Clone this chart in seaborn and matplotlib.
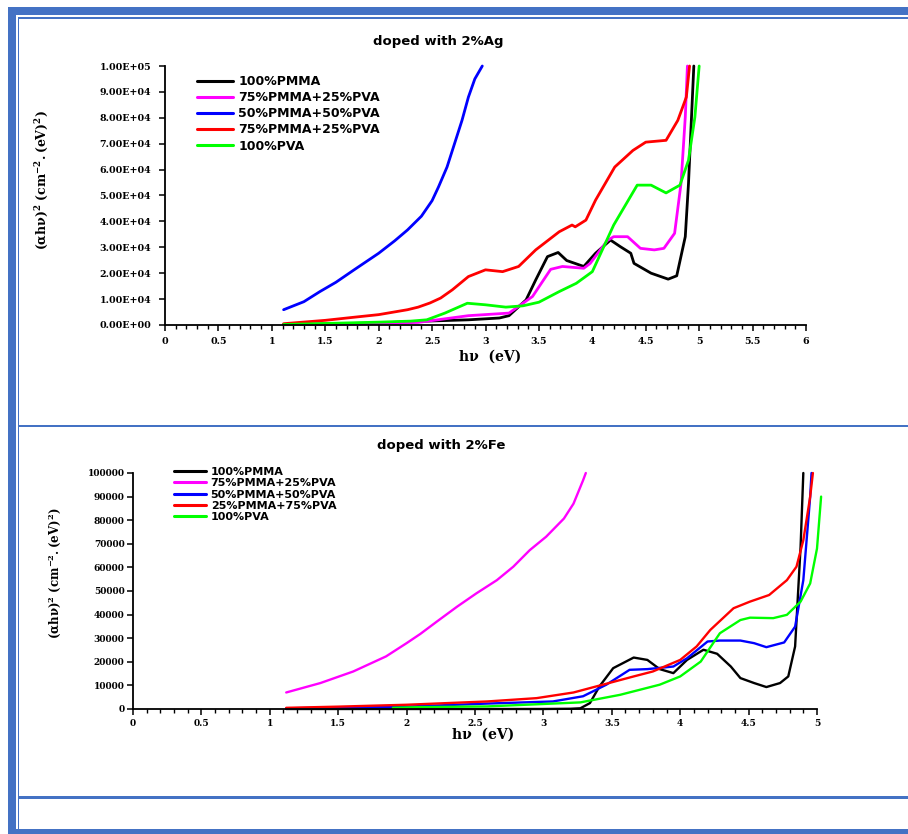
import matplotlib
matplotlib.use("Agg")
import matplotlib.pyplot as plt
from matplotlib.patches import Rectangle
from matplotlib.ticker import MultipleLocator, FuncFormatter
import seaborn as sns
import pandas as pd

sns.set_style("ticks")
plt.rcParams['font.family'] = ['DejaVu Sans']
plt.rcParams['mathtext.fontset'] = 'dejavuserif'
plt.rcParams['text.color'] = 'black'
plt.rcParams['axes.labelcolor'] = 'black'
plt.rcParams['xtick.color'] = 'black'
plt.rcParams['ytick.color'] = 'black'

# ---- doped with 2%Ag ----
ag_pmma_x = [1.11, 1.5, 2.0, 2.37, 2.84, 3.13, 3.22, 3.38, 3.47, 3.58, 3.68, 3.76, 3.92, 4.03,
             4.17, 4.26, 4.36, 4.39, 4.55, 4.71, 4.79, 4.87, 4.9, 4.95]
ag_pmma_y = [200, 400, 800, 1400, 2000, 2700, 3600, 9700, 17400, 26400, 28000, 24900, 22600, 27700,
             32800, 30300, 27700, 23800, 20000, 17700, 19000, 34100, 54600, 100000]

ag_75_x = [1.11, 1.5, 2.0, 2.37, 2.84, 3.22, 3.44, 3.61, 3.72, 3.92, 3.98, 4.14, 4.2, 4.33,
           4.45, 4.58, 4.67, 4.77, 4.83, 4.87, 4.89]
ag_75_y = [100, 300, 600, 1000, 3600, 4600, 11000, 21500, 22600, 21900, 23800, 32600, 34100, 34100,
           29600, 29000, 29600, 35400, 54600, 80300, 100000]

ag_50_x = [1.11, 1.3, 1.45, 1.6, 1.77, 2.0, 2.15, 2.27, 2.4, 2.5, 2.56, 2.64, 2.71, 2.78, 2.84,
           2.9, 2.97]
ag_50_y = [5900, 9000, 12900, 16500, 21300, 27700, 32500, 36700, 42000, 48000, 53300, 61000,
           70000, 79000, 88000, 95000, 100000]

ag_red_x = [1.11, 1.5, 1.77, 2.0, 2.27, 2.37, 2.48, 2.58, 2.69, 2.84, 3.0, 3.16, 3.31, 3.47,
            3.69, 3.81, 3.84, 3.94, 4.03, 4.21, 4.38, 4.5, 4.69, 4.8, 4.88, 4.91]
ag_red_y = [500, 1800, 3000, 4000, 5900, 6900, 8500, 10400, 13600, 18700, 21300, 20600, 22600, 29000,
            36000, 38600, 37900, 40500, 48200, 61000, 67400, 70600, 71300, 79000, 88000, 100000]

ag_pva_x = [1.11, 1.5, 2.0, 2.3, 2.45, 2.62, 2.83, 3.0, 3.19, 3.35, 3.5, 3.69, 3.85, 4.0,
            4.2, 4.42, 4.55, 4.69, 4.82, 4.9, 4.96, 5.0]
ag_pva_y = [200, 600, 1100, 1500, 2000, 4600, 8400, 7800, 6900, 7400, 8800, 12900, 16100, 20600,
            38600, 54000, 54000, 51000, 54000, 63600, 80300, 100000]

ag_labels = ["100%PMMA", "75%PMMA+25%PVA", "50%PMMA+50%PVA", "75%PMMA+25%PVA", "100%PVA"]

# ---- doped with 2%Fe ----
fe_pmma_x = [1.12, 2.0, 3.0, 3.2, 3.27, 3.34, 3.41, 3.51, 3.66, 3.76, 3.85, 3.95, 4.05, 4.17,
             4.27, 4.37, 4.44, 4.54, 4.63, 4.73, 4.79, 4.84, 4.88, 4.9]
fe_pmma_y = [0, 0, 0, 100, 300, 2500, 9600, 17300, 21800, 20800, 16900, 15200, 20800, 25100,
             23400, 18000, 13100, 11000, 9300, 11000, 13800, 26500, 68700, 100000]

fe_75_x = [1.12, 1.37, 1.61, 1.85, 2.0, 2.1, 2.22, 2.37, 2.51, 2.66, 2.78, 2.9, 3.02, 3.15,
           3.22, 3.29, 3.31]
fe_75_y = [7000, 11000, 15900, 22300, 27900, 31800, 37000, 43400, 49000, 54600, 60300, 67300,
           73000, 80700, 87000, 96900, 100000]

fe_50_x = [1.12, 1.5, 2.0, 2.59, 3.07, 3.29, 3.46, 3.63, 3.76, 3.95, 4.05, 4.2, 4.29, 4.44,
           4.54, 4.63, 4.76, 4.84, 4.9, 4.95, 4.96]
fe_50_y = [300, 600, 1000, 2300, 3200, 5400, 10300, 16600, 16900, 18000, 21500, 28600, 29000, 29000,
           27900, 26200, 28200, 34900, 54600, 89900, 100000]

fe_25_x = [1.12, 1.5, 2.0, 2.59, 2.95, 3.22, 3.46, 3.66, 3.8, 4.0, 4.12, 4.22, 4.39, 4.51,
           4.65, 4.78, 4.85, 4.9, 4.95, 4.97]
fe_25_y = [500, 1000, 1800, 3200, 4600, 7000, 10700, 13800, 15900, 20800, 26500, 33500, 42700, 45500,
           48300, 54600, 60300, 71500, 89900, 100000]

fe_pva_x = [1.9, 2.1, 2.59, 3.27, 3.56, 3.85, 4.0, 4.15, 4.29, 4.44, 4.51, 4.68, 4.78, 4.88,
            4.95, 5.0, 5.03]
fe_pva_y = [500, 800, 1100, 2800, 6000, 10300, 13800, 20100, 32100, 37700, 38700, 38500, 39900,
            45500, 53200, 68000, 90000]

fe_labels = ["100%PMMA", "75%PMMA+25%PVA", "50%PMMA+50%PVA", "25%PMMA+75%PVA", "100%PVA"]

colors = ["#000000", "#FF00FF", "#0000FF", "#FF0000", "#00FF00"]
border_blue = "#4472C4"

W, H = 908, 834
fig = plt.figure(figsize=(W / 100, H / 100), dpi=100)

# page table borders (pixel coordinates on a background axes)
bg = fig.add_axes([0, 0, 1, 1], zorder=-5)
bg.set_xlim(0, W)
bg.set_ylim(H, 0)
bg.axis("off")
for (x0, y0, w, h) in [(8, 7, 900, 8), (17.5, 17, 891, 2), (8, 7, 8, 827), (17.5, 17, 1.6, 817),
                       (19, 424.5, 889, 2.5), (19, 796, 889, 2.5), (8, 828.5, 900, 6)]:
    bg.add_patch(Rectangle((x0, y0), w, h, color=border_blue, lw=0))


def px_box(left, top, right, bottom):
    return [left / W, 1 - bottom / H, (right - left) / W, (bottom - top) / H]


def draw_panel(box, series, labels, xmax, yfmt, lw, leg_anchor, leg_size, tick_size, spacing):
    ax = fig.add_axes(box)
    for (xs, ys), lab, col in zip(series, labels, colors):
        df = pd.DataFrame({"hv": xs, "val": ys})
        sns.lineplot(data=df, x="hv", y="val", ax=ax, color=col, linewidth=lw,
                     label=lab, estimator=None, sort=False, clip_on=False)
    ax.set_xlim(0, xmax)
    ax.set_ylim(0, 100000)
    ax.set_xlabel("")
    ax.set_ylabel("")
    ax.xaxis.set_major_locator(MultipleLocator(0.5))
    ax.xaxis.set_minor_locator(MultipleLocator(0.1))
    ax.yaxis.set_major_locator(MultipleLocator(10000))
    ax.yaxis.set_major_formatter(FuncFormatter(yfmt))
    ax.xaxis.set_major_formatter(FuncFormatter(lambda v, p: f"{v:g}"))
    for s in ["top", "right"]:
        ax.spines[s].set_visible(False)
    for s in ["left", "bottom"]:
        ax.spines[s].set_linewidth(1.3)
        ax.spines[s].set_color("black")
    ax.tick_params(axis="both", which="major", direction="out", length=4, width=1.1,
                   labelsize=tick_size, pad=3, color="black", labelcolor="black")
    ax.tick_params(axis="x", which="minor", direction="out", length=3, width=1.0, color="black")
    for t in ax.get_xticklabels() + ax.get_yticklabels():
        t.set_fontfamily("DejaVu Serif")
        t.set_fontweight("bold")
    leg = ax.legend(loc="upper left", bbox_to_anchor=leg_anchor, bbox_transform=fig.transFigure,
                    frameon=False, borderpad=0, borderaxespad=0, handlelength=2.9,
                    handletextpad=0.4, labelspacing=spacing,
                    prop={"family": "DejaVu Sans", "weight": "bold", "size": leg_size})
    for txt in leg.get_texts():
        txt.set_color("black")
    for line in leg.get_lines():
        line.set_linewidth(2.2)
    return ax


ag_series = [(ag_pmma_x, ag_pmma_y), (ag_75_x, ag_75_y), (ag_50_x, ag_50_y),
             (ag_red_x, ag_red_y), (ag_pva_x, ag_pva_y)]
ax1 = draw_panel(px_box(165, 66, 806, 325), ag_series, ag_labels, 6,
                 lambda v, p: f"{v:.2E}", 2.0, (197 / W, 1 - 75 / H), 9.0, 6.8, 0.25)
ax1.tick_params(axis="y", pad=6)
ax1.tick_params(axis="x", pad=5)

fe_series = [(fe_pmma_x, fe_pmma_y), (fe_75_x, fe_75_y), (fe_50_x, fe_50_y),
             (fe_25_x, fe_25_y), (fe_pva_x, fe_pva_y)]
ax2 = draw_panel(px_box(133, 473, 817, 709), fe_series, fe_labels, 5,
                 lambda v, p: f"{int(v)}", 1.7, (174 / W, 1 - 467 / H), 8.0, 6.5, 0.12)
ax2.tick_params(axis="y", pad=2)
ax2.tick_params(axis="x", pad=3)

# titles and axis labels
fig.text(438 / W, 1 - 42 / H, "doped with 2%Ag", ha="center", va="center",
         fontsize=9.5, fontweight="bold", family="DejaVu Sans")
fig.text(441 / W, 1 - 446 / H, "doped with 2%Fe", ha="center", va="center",
         fontsize=9.5, fontweight="bold", family="DejaVu Sans")

fig.text(490 / W, 1 - 357 / H, "hν  (eV)", ha="center", va="center",
         fontsize=10, fontweight="bold", family="DejaVu Serif")
fig.text(483 / W, 1 - 735 / H, "hν  (eV)", ha="center", va="center",
         fontsize=10, fontweight="bold", family="DejaVu Serif")

ylab = r"$\mathbf{(\alpha h\nu)^{2}\ (cm^{-2}.(eV)^{2})}$"
fig.text(42 / W, 1 - 180 / H, ylab, ha="center", va="center", rotation=90, fontsize=9)
fig.text(55 / W, 1 - 573 / H, ylab, ha="center", va="center", rotation=90, fontsize=8.5)

fig.savefig("out.png", dpi=100)
